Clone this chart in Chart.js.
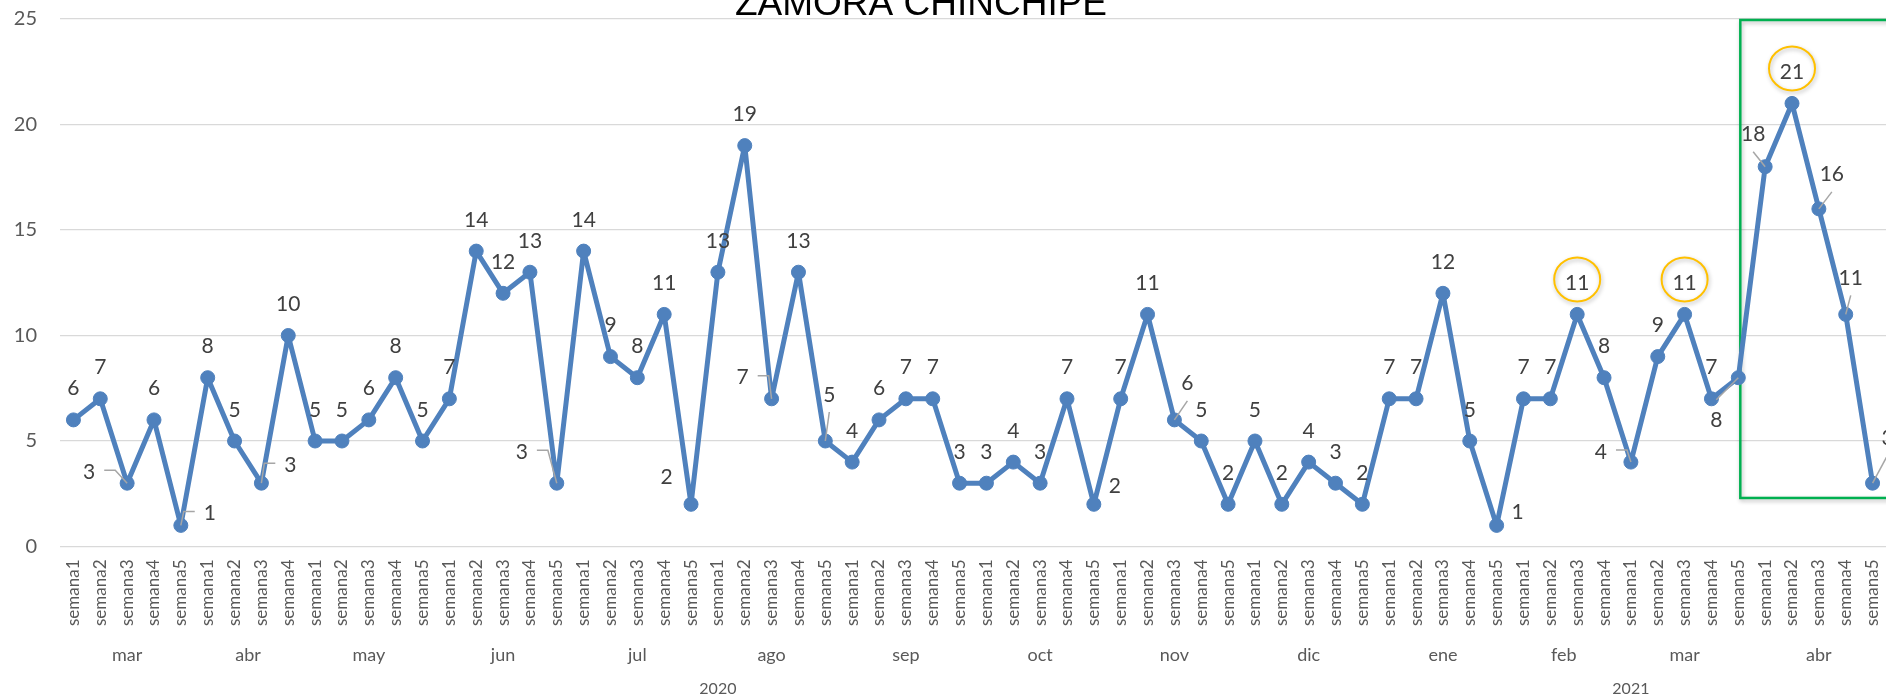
<!DOCTYPE html>
<html><head><meta charset="utf-8">
<script src="https://cdn.jsdelivr.net/npm/chart.js@4.4.1/dist/chart.umd.min.js"></script>
<style>html,body{margin:0;padding:0;background:#fff;overflow:hidden}canvas{display:block}</style>
</head><body>
<canvas id="c" width="1886" height="698"></canvas>
<script>
const chartTitle = 'ZAMORA CHINCHIPE';
const weekLabels = [
 'semana1','semana2','semana3','semana4','semana5',
 'semana1','semana2','semana3','semana4',
 'semana1','semana2','semana3','semana4','semana5',
 'semana1','semana2','semana3','semana4','semana5',
 'semana1','semana2','semana3','semana4','semana5',
 'semana1','semana2','semana3','semana4','semana5',
 'semana1','semana2','semana3','semana4','semana5',
 'semana1','semana2','semana3','semana4','semana5',
 'semana1','semana2','semana3','semana4','semana5',
 'semana1','semana2','semana3','semana4','semana5',
 'semana1','semana2','semana3','semana4','semana5',
 'semana1','semana2','semana3','semana4',
 'semana1','semana2','semana3','semana4','semana5',
 'semana1','semana2','semana3','semana4','semana5'
];
const monthNames = ['mar','abr','may','jun','jul','ago','sep','oct','nov','dic','ene','feb','mar','abr'];
const monthWeeks = [5,4,5,5,5,5,5,5,5,5,5,4,5,5];
const yearNames = ['2020','2021'];
const yearMonths = [10,4];
const casos = [
 6,7,3,6,1,
 8,5,3,10,
 5,5,6,8,5,
 7,14,12,13,3,
 14,9,8,11,2,
 13,19,7,13,5,
 4,6,7,7,3,
 3,4,3,7,2,
 7,11,6,5,2,
 5,2,4,3,2,
 7,7,12,5,1,
 7,7,11,8,
 4,9,11,7,8,
 18,21,16,11,3
];
const yTicks = [0,5,10,15,20,25];
const circledPoints = [56,60,64];
const highlightFrom = 62, highlightTop = 25, highlightBottom = 2.3;
// moved data labels: index -> [dx, dy, leader type]
const labelMoves = {
 2:[-38,-12,'L'], 4:[29,-13,'L'], 7:[29,-19,'L'], 18:[-35,-32,'L'],
 23:[-24.5,-28,null], 26:[-29,-22,'L'], 28:[4,-47,'D'], 38:[21,-19,null],
 41:[13,-37,'D'], 53:[21,-14,null], 58:[-30,-11,'L'], 62:[-22,42,'D'],
 63:[-12,-33,'D'], 65:[13,-35,'D'], 66:[5,-37,'D'], 67:[15,-46,'D']
};

const AXIS_FONT = 'Lato, "Noto Sans", sans-serif';
const LABEL_SIZE = 21;

const overlay = {
  id:'overlay',
  beforeDatasetsDraw(chart){
    const ctx = chart.ctx, xs = chart.scales.x, ys = chart.scales.y;
    ctx.save();
    ctx.shadowColor = 'rgba(0,0,0,0.28)'; ctx.shadowBlur = 4; ctx.shadowOffsetX = 1; ctx.shadowOffsetY = 2;
    ctx.strokeStyle = '#00b050'; ctx.lineWidth = 2.5;
    const x0 = xs.getPixelForValue(highlightFrom) + 2;
    const y0 = ys.getPixelForValue(highlightTop) + 1;
    const y1 = ys.getPixelForValue(highlightBottom);
    ctx.strokeRect(x0, y0, 1960 - x0, y1 - y0);
    ctx.restore();
  },
  afterDatasetsDraw(chart){
    const ctx = chart.ctx;
    const meta = chart.getDatasetMeta(0);
    ctx.save();
    ctx.font = LABEL_SIZE + 'px ' + AXIS_FONT;
    ctx.textAlign = 'center'; ctx.textBaseline = 'alphabetic';
    const capH = 0.72 * LABEL_SIZE;
    meta.data.forEach((pt, i) => {
      const mv = labelMoves[i] || [0, -32, null];
      const lx = pt.x + mv[0], ly = pt.y + mv[1];
      const txt = String(casos[i]);
      const w = ctx.measureText(txt).width;
      ctx.strokeStyle = '#a6a6a6'; ctx.lineWidth = 1.5;
      if (mv[2] === 'L') {
        const side = lx < pt.x ? 1 : -1;
        const sx = lx + side * (w / 2 + 9), ex = sx + side * 11;
        ctx.beginPath(); ctx.moveTo(sx, ly - 1); ctx.lineTo(ex, ly - 1); ctx.lineTo(pt.x, pt.y); ctx.stroke();
      } else if (mv[2] === 'D') {
        const sy = ly + (pt.y > ly ? 18 : -20);
        ctx.beginPath(); ctx.moveTo(lx, sy); ctx.lineTo(pt.x, pt.y); ctx.stroke();
      }
      ctx.fillStyle = '#404040';
      ctx.fillText(txt, lx, ly + capH / 2);
      if (circledPoints.includes(i)) {
        ctx.save();
        ctx.shadowColor = 'rgba(0,0,0,0.28)'; ctx.shadowBlur = 4; ctx.shadowOffsetX = 1; ctx.shadowOffsetY = 2;
        ctx.strokeStyle = '#ffc000'; ctx.lineWidth = 2;
        ctx.beginPath(); ctx.ellipse(lx, ly - 3, 23, 22, 0, 0, Math.PI * 2); ctx.stroke();
        ctx.restore();
      }
    });
    ctx.restore();
  },
  afterDraw(chart){
    const ctx = chart.ctx, xs = chart.scales.x;
    ctx.save();
    ctx.fillStyle = '#595959'; ctx.textAlign = 'center'; ctx.textBaseline = 'middle';
    ctx.font = '18px ' + AXIS_FONT;
    let k = 0;
    const monthStart = [];
    monthWeeks.forEach((n, m) => {
      monthStart.push(k);
      const c = (xs.getPixelForValue(k) + xs.getPixelForValue(k + n - 1)) / 2;
      ctx.fillText(monthNames[m], c, 655);
      k += n;
    });
    monthStart.push(k);
    ctx.font = '16px ' + AXIS_FONT;
    let mi = 0;
    yearMonths.forEach((nm, y) => {
      const a = monthStart[mi], b = monthStart[mi + nm] - 1;
      const c = (xs.getPixelForValue(a) + xs.getPixelForValue(b)) / 2;
      ctx.fillText(yearNames[y], c, 689);
      mi += nm;
    });
    ctx.fillStyle = '#000'; ctx.textBaseline = 'alphabetic';
    ctx.font = '37px "Liberation Sans", Arial, sans-serif';
    ctx.fillText(chartTitle, 921, 15);
    ctx.restore();
  }
};

function draw(){
  new Chart(document.getElementById('c'), {
    type:'line',
    data:{labels:weekLabels, datasets:[{data:casos, borderColor:'#4f81bd', backgroundColor:'#4f81bd',
      borderWidth:5, pointRadius:7, pointHoverRadius:7, pointBorderWidth:1,
      pointBackgroundColor:'#4f81bd', pointBorderColor:'#4f81bd',
      borderJoinStyle:'round', borderCapStyle:'round', tension:0, clip:false}]},
    options:{responsive:false, animation:false, devicePixelRatio:1,
      layout:{autoPadding:false, padding:{top:19, left:0, right:0, bottom:0}},
      plugins:{legend:{display:false}, tooltip:{enabled:false}, title:{display:false}},
      scales:{
        x:{type:'category', offset:true, grid:{display:false, drawTicks:false}, border:{display:false},
          ticks:{autoSkip:false, minRotation:90, maxRotation:90, padding:13, color:'#595959',
            font:{family:AXIS_FONT, size:17}},
          afterFit(s){ s.height = 151.5; s.paddingLeft = 0; s.paddingRight = 0; }},
        y:{min:0, max:25, grid:{color:'#d9d9d9', lineWidth:1.3, drawTicks:false}, border:{display:false},
          ticks:{stepSize:5, padding:23, color:'#595959', font:{family:AXIS_FONT, size:20}},
          afterFit(s){ s.width = 60; s.paddingTop = 0; s.paddingBottom = 0; },
          afterBuildTicks(s){ s.ticks = yTicks.map(v => ({value:v})); }}
      }
    },
    plugins:[overlay]
  });
}
Promise.all([document.fonts.load('20px Lato'), document.fonts.load('37px "Liberation Sans"')])
  .then(draw, draw);
</script>
</body></html>
